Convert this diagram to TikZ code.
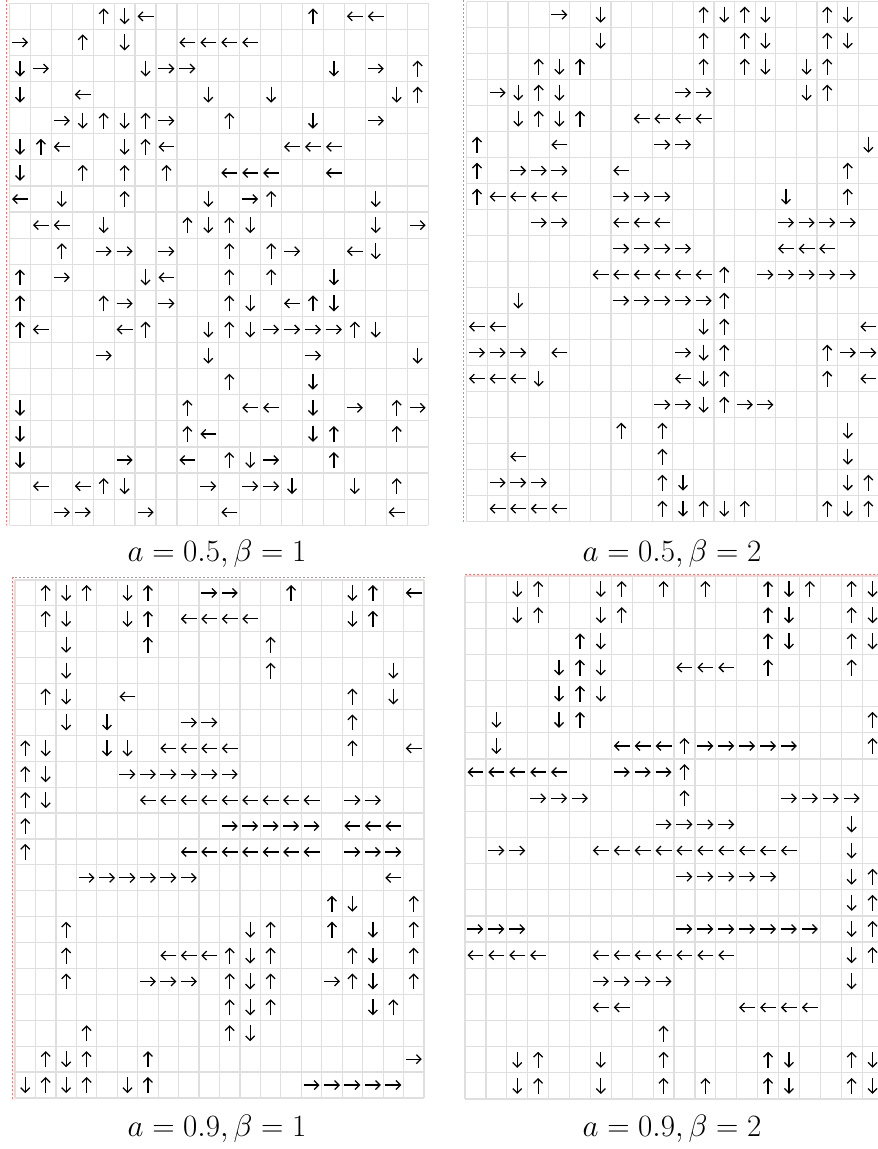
\RequirePackage{fix-cm}
\documentclass[tikz,border=0pt]{standalone}
\usepackage{tikz}
\usetikzlibrary{arrows.meta, positioning, calc}

% angle of each move
\newcommand{\dirr}{0}
\newcommand{\diru}{90}
\newcommand{\dirl}{180}
\newcommand{\dird}{270}

% #1 x left, #2 y top (from top of page), #3 cell width, #4 cell height, #5 rows
\newcommand{\drawpanel}[5]{%
  \foreach \i in {0,...,20}{
    \draw[gridline] ({#1+\i*#3},{1149-#2}) -- ({#1+\i*#3},{1149-#2-20*#4});
    \draw[gridline] (#1,{1149-#2-\i*#4}) -- ({#1+20*#3},{1149-#2-\i*#4});
  }
  \foreach \r/\cells in {#5}{
    \foreach \cl/\dr in \cells{
      \edef\ang{\csname dir\dr\endcsname}
      \draw[move] ({#1+(\cl-0.5)*#3},{1149-#2-(\r-0.5)*#4}) ++(\ang+180:8) -- ++(\ang:16);
    }
  }
}

\begin{document}
\begin{tikzpicture}[
    x=1pt, y=1pt,
    gridline/.style={draw=gray!25, line width=1.2pt},
    move/.style={-{Straight Barb[length=4.5pt,width=9pt]}, line width=1.25pt, black},
    cutmark/.style={draw=red!55, dash pattern=on 2pt off 2pt, line width=1pt},
    caption/.style={anchor=base, font=\fontsize{31}{37}\selectfont}
]
\useasboundingbox (0,0) rectangle (878,1149);
\clip (0,0) rectangle (878,1149);

% a=0.5, beta=1
\drawpanel{9.5}{3.3}{20.93}{26.1}{
1/{5/u,6/d,7/l,15/u,17/l,18/l},
2/{1/r,4/u,6/d,9/l,10/l,11/l,12/l},
3/{1/d,2/r,7/d,8/r,9/r,16/d,18/r,20/u},
4/{1/d,4/l,10/d,13/d,19/d,20/u},
5/{3/r,4/d,5/u,6/d,7/u,8/r,11/u,15/d,18/r},
6/{1/d,2/u,3/l,6/d,7/u,8/l,14/l,15/l,16/l},
7/{1/d,4/u,6/u,8/u,11/l,12/l,13/l,16/l},
8/{1/l,3/d,6/u,10/d,12/r,13/u,18/d},
9/{2/l,3/l,5/d,9/u,10/d,11/u,12/d,18/d,20/r},
10/{3/u,5/r,6/r,8/r,11/u,13/u,14/r,17/l,18/d},
11/{1/u,3/r,7/d,8/l,11/u,13/u,16/d},
12/{1/u,5/u,6/r,8/r,11/u,12/d,14/l,15/u,16/d},
13/{1/u,2/l,6/l,7/u,10/d,11/u,12/d,13/r,14/r,15/r,16/r,17/u,18/d},
14/{5/r,10/d,15/r,20/d},
15/{11/u,15/d},
16/{1/d,9/u,12/l,13/l,15/d,17/r,19/u,20/r},
17/{1/d,9/u,10/l,15/d,16/u,19/u},
18/{1/d,6/r,9/l,11/u,12/d,13/r,16/u},
19/{2/l,4/l,5/u,6/d,10/r,12/r,13/r,14/d,17/d,19/u},
20/{3/r,4/r,7/r,11/l,19/l}}

% a=0.5, beta=2
\drawpanel{466.7}{1.7}{20.6}{26}{
1/{5/r,7/d,12/u,13/d,14/u,15/d,18/u,19/d},
2/{7/d,12/u,14/u,15/d,18/u,19/d},
3/{4/u,5/d,6/u,12/u,14/u,15/d,17/d,18/u},
4/{2/r,3/d,4/u,5/d,11/r,12/r,17/d,18/u},
5/{3/d,4/u,5/d,6/u,9/l,10/l,11/l,12/l},
6/{1/u,5/l,10/r,11/r,20/d},
7/{1/u,3/r,4/r,5/r,8/l,19/u},
8/{1/u,2/l,3/l,4/l,5/l,8/r,9/r,10/r,16/d,19/u},
9/{4/r,5/r,8/l,9/l,10/l,16/r,17/r,18/r,19/r},
10/{8/r,9/r,10/r,11/r,16/l,17/l,18/l},
11/{7/l,8/l,9/l,10/l,11/l,12/l,13/u,15/r,16/r,17/r,18/r,19/r},
12/{3/d,8/r,9/r,10/r,11/r,12/r,13/u},
13/{1/l,2/l,12/d,13/u,20/l},
14/{1/r,2/r,3/r,5/l,11/r,12/d,13/u,18/u,19/r,20/r},
15/{1/l,2/l,3/l,4/d,11/l,12/d,13/u,18/u,20/l},
16/{10/r,11/r,12/d,13/u,14/r,15/r},
17/{8/u,10/u,19/d},
18/{3/l,10/u,19/d},
19/{2/r,3/r,4/r,10/u,11/d,19/d,20/u},
20/{2/l,3/l,4/l,5/l,10/u,11/d,12/u,13/d,14/u,18/u,19/d,20/u}}

% a=0.9, beta=1
\drawpanel{15}{580}{20.45}{25.9}{
1/{2/u,3/d,4/u,6/d,7/u,10/r,11/r,14/u,17/d,18/u,20/l},
2/{2/u,3/d,6/d,7/u,9/l,10/l,11/l,12/l,17/d,18/u},
3/{3/d,7/u,13/u},
4/{3/d,13/u,19/d},
5/{2/u,3/d,6/l,17/u,19/d},
6/{3/d,5/d,9/r,10/r,17/u},
7/{1/u,2/d,5/d,6/d,8/l,9/l,10/l,11/l,17/u,20/l},
8/{1/u,2/d,6/r,7/r,8/r,9/r,10/r,11/r},
9/{1/u,2/d,7/l,8/l,9/l,10/l,11/l,12/l,13/l,14/l,15/l,17/r,18/r},
10/{1/u,11/r,12/r,13/r,14/r,15/r,17/l,18/l,19/l},
11/{1/u,9/l,10/l,11/l,12/l,13/l,14/l,15/l,17/r,18/r,19/r},
12/{4/r,5/r,6/r,7/r,8/r,9/r,19/l},
13/{16/u,17/d,20/u},
14/{3/u,12/d,13/u,16/u,18/d,20/u},
15/{3/u,8/l,9/l,10/l,11/u,12/d,13/u,17/u,18/d,20/u},
16/{3/u,7/r,8/r,9/r,11/u,12/d,13/u,16/r,17/u,18/d,20/u},
17/{11/u,12/d,13/u,18/d,19/u},
18/{4/u,11/u,12/d},
19/{2/u,3/d,4/u,7/u,20/r},
20/{1/d,2/u,3/d,4/u,6/d,7/u,15/r,16/r,17/r,18/r,19/r}}

% a=0.9, beta=2
\drawpanel{465}{576}{20.9}{26.15}{
1/{3/d,4/u,7/d,8/u,10/u,12/u,15/u,16/d,17/u,19/u,20/d},
2/{3/d,4/u,7/d,8/u,15/u,16/d,19/u,20/d},
3/{6/u,7/d,15/u,16/d,19/u,20/d},
4/{5/d,6/u,7/d,11/l,12/l,13/l,15/u,19/u},
5/{5/d,6/u,7/d},
6/{2/d,5/d,6/u,20/u},
7/{2/d,8/l,9/l,10/l,11/u,12/r,13/r,14/r,15/r,16/r,20/u},
8/{1/l,2/l,3/l,4/l,5/l,8/r,9/r,10/r,11/u},
9/{4/r,5/r,6/r,11/u,16/r,17/r,18/r,19/r},
10/{10/r,11/r,12/r,13/r,19/d},
11/{2/r,3/r,7/l,8/l,9/l,10/l,11/l,12/l,13/l,14/l,15/l,16/l,19/d},
12/{11/r,12/r,13/r,14/r,15/r,19/d,20/u},
13/{19/d,20/u},
14/{1/r,2/r,3/r,11/r,12/r,13/r,14/r,15/r,16/r,17/r,19/d,20/u},
15/{1/l,2/l,3/l,4/l,7/l,8/l,9/l,10/l,11/l,12/l,13/l,19/d,20/u},
16/{7/r,8/r,9/r,10/r,19/d},
17/{7/l,8/l,14/l,15/l,16/l,17/l},
18/{10/u},
19/{3/d,4/u,7/d,10/u,15/u,16/d,19/u,20/d},
20/{3/d,4/u,7/d,10/u,12/u,15/u,16/d,19/u,20/d}}

% Bordes de captura
\coordinate (tlTop) at (6.5,1149);
\coordinate (tlBot) at (6.5,624);
\draw[cutmark] (tlTop) -- (tlBot);
\coordinate (trTop) at (463.5,1149);
\coordinate (trBot) at (463.5,627);
\draw[cutmark] (trTop) -- (trBot);
\coordinate (blCorner) at (12.5,571.5);
\coordinate (blBot) at (12.5,49);
\coordinate (blRight) at (425,571.5);
\draw[cutmark] (blRight) -- (blCorner) -- (blBot);
\coordinate (brLeft) at (465,574.5);
\coordinate (brRight) at (878,574.5);
\draw[cutmark] (brLeft) -- (brRight);

% Captions
\node[caption] (cap05b1) at (217,587.3) {$a=0.5,\beta=1$};
\node[caption] (cap05b2) at (672,587.3) {$a=0.5,\beta=2$};
\node[caption] (cap09b1) at (217,12.3) {$a=0.9,\beta=1$};
\node[caption] (cap09b2) at (672,12.3) {$a=0.9,\beta=2$};

\end{tikzpicture}
\end{document}
